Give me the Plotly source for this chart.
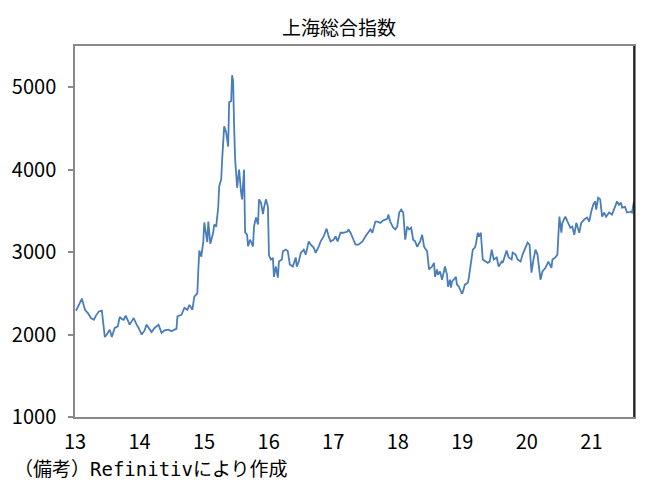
import plotly.graph_objects as go

# time in years (13 = Jan 2013), index level
years = [13.015,13.108,13.154,13.200,13.247,13.293,13.324,13.370,13.416,13.462,13.493,13.539,13.570,13.616,13.663,13.693,13.724,13.755,13.786,13.817,13.847,13.878,13.909,13.955,13.986,
14.032,14.078,14.109,14.155,14.186,14.233,14.294,14.341,14.387,14.448,14.495,14.541,14.572,14.587,14.649,14.695,14.741,14.772,14.818,14.849,14.895,14.911,14.926,14.957,14.988,
15.003,15.049,15.065,15.096,15.142,15.157,15.188,15.219,15.234,15.265,15.280,15.311,15.342,15.373,15.388,15.419,15.434,15.450,15.465,15.481,15.512,15.527,15.542,15.573,15.589,15.619,15.635,15.666,15.681,15.712,15.758,15.773,15.804,15.835,15.851,15.881,15.912,15.928,15.958,15.989,
16.005,16.035,16.066,16.082,16.112,16.143,16.159,16.205,16.220,16.267,16.297,16.328,16.374,16.420,16.436,16.467,16.498,16.544,16.575,16.621,16.652,16.698,16.729,16.775,16.806,16.852,16.898,16.929,16.960,
17.006,17.037,17.068,17.114,17.160,17.222,17.237,17.268,17.314,17.345,17.391,17.453,17.499,17.545,17.576,17.607,17.653,17.684,17.730,17.777,17.838,17.854,17.884,17.931,17.961,17.992,
18.023,18.054,18.085,18.116,18.146,18.177,18.208,18.239,18.270,18.300,18.347,18.378,18.408,18.455,18.485,18.532,18.562,18.578,18.609,18.624,18.655,18.686,18.732,18.763,18.778,18.809,18.824,18.840,18.871,18.901,18.917,18.948,18.994,
19.009,19.040,19.086,19.102,19.133,19.163,19.194,19.209,19.240,19.256,19.287,19.317,19.364,19.394,19.425,19.456,19.487,19.533,19.564,19.610,19.626,19.687,19.718,19.764,19.780,19.826,19.857,19.903,19.934,19.980,
20.011,20.042,20.072,20.103,20.134,20.165,20.211,20.242,20.288,20.334,20.381,20.396,20.442,20.473,20.504,20.535,20.550,20.596,20.627,20.673,20.704,20.735,20.766,20.812,20.843,20.889,20.935,20.966,20.997,
21.028,21.059,21.074,21.105,21.136,21.166,21.197,21.228,21.274,21.320,21.367,21.397,21.428,21.459,21.475,21.521,21.552,21.613,21.629,21.659]

index_values = [2289,2435,2300,2260,2200,2180,2230,2280,2290,1970,2000,2060,1970,2080,2100,2215,2190,2180,2230,2160,2120,2160,2200,2120,2080,
2000,2050,2120,2060,2030,2080,2120,2020,2050,2060,2040,2060,2070,2220,2240,2325,2300,2360,2300,2460,2500,2790,3020,2945,3130,
3360,3120,3370,3100,3240,3335,3310,3550,3800,3880,4125,4525,4450,4280,4820,4830,5145,5075,4525,4125,3780,3940,4000,3720,3640,4000,3240,3210,3070,3150,3070,3310,3420,3335,3640,3600,3460,3540,3640,3550,
2960,2910,2930,2700,2825,2690,2885,2910,3010,3030,3010,2850,2825,2935,2825,2885,2990,3030,2970,3130,3090,3055,2990,3065,3130,3190,3285,3190,3130,
3150,3190,3130,3235,3235,3250,3275,3235,3150,3090,3090,3130,3190,3235,3275,3235,3370,3370,3355,3385,3405,3455,3370,3295,3275,3310,
3480,3515,3480,3150,3310,3275,3295,3150,3130,3065,3130,3210,3065,3010,2790,2825,2870,2700,2790,2725,2765,2665,2825,2725,2580,2665,2570,2640,2665,2700,2605,2580,2495,
2520,2605,2630,2690,2870,3030,3055,3090,3235,3190,3235,2910,2885,2870,2885,3030,2910,2935,2825,2885,2870,3020,2935,2910,2995,2970,2910,2885,2970,3055,
3115,3090,2750,2910,3030,2970,2665,2765,2810,2885,2810,2910,2935,2970,3430,3235,3355,3430,3370,3295,3310,3210,3355,3235,3355,3395,3420,3370,3490,
3575,3615,3515,3660,3640,3430,3480,3430,3480,3455,3540,3615,3575,3600,3540,3550,3480,3490,3480,3615]

year_ticks = [13, 14, 15, 16, 17, 18, 19, 20, 21]
year_labels = ["13", "14", "15", "16", "17", "18", "19", "20", "21"]
y_ticks = [1000, 2000, 3000, 4000, 5000]

FONT = "Noto Sans CJK JP"
GRAY = "#898989"

fig = go.Figure()
fig.add_trace(go.Scatter(x=years, y=index_values, mode="lines",
                         line=dict(color="#4a7ebb", width=1.8),
                         showlegend=False, hoverinfo="skip"))

note = ("（備考）<span style=\"font-family:'DejaVu Sans Mono'\">Refinitiv</span>により作成")

fig.update_layout(
    width=648, height=488,
    margin=dict(l=73, r=13, t=46, b=71),
    paper_bgcolor="white", plot_bgcolor="white",
    font=dict(family=FONT, size=20, color="black"),
    xaxis=dict(range=[13, 21.66], tickmode="array", tickvals=year_ticks, ticktext=year_labels,
               showgrid=False, zeroline=False, showline=True, linecolor=GRAY, linewidth=1.5,
               mirror=True, ticks="", ticklabelstandoff=6,
               tickfont=dict(family=FONT, size=20, color="black")),
    yaxis=dict(range=[1000, 5500], tickmode="array", tickvals=y_ticks,
               showgrid=False, zeroline=False, showline=True, linecolor=GRAY, linewidth=1.5,
               mirror=True, ticks="outside", ticklen=5, tickcolor=GRAY, tickwidth=1.5,
               ticklabelstandoff=8,
               tickfont=dict(family=FONT, size=20, color="black")),
    annotations=[
        dict(text="上海総合指数", xref="paper", yref="paper", x=0.473, y=1.0, yshift=20,
             xanchor="center", yanchor="middle", showarrow=False,
             font=dict(family=FONT, size=19, color="black")),
        dict(text=note, xref="paper", yref="paper", x=-0.112, y=-0.135,
             xanchor="left", yanchor="middle", showarrow=False,
             font=dict(family=FONT, size=19, color="black")),
    ],
    shapes=[dict(type="line", xref="paper", yref="paper", x0=1, x1=1, y0=0, y1=1,
                 line=dict(color="black", width=1.5))],
)

fig.write_html("out.html")
